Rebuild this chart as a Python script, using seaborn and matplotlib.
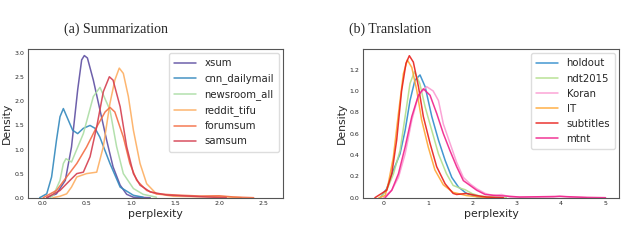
import matplotlib.pyplot as plt
import pandas as pd
import seaborn as sns

sns.set_style("white")

# (a) Summarization -- density curves
xsum_x = [0.05, 0.16, 0.26, 0.33, 0.40, 0.445, 0.475, 0.51, 0.577, 0.652, 0.728, 0.80, 0.88, 0.954, 1.03, 1.22]
xsum_y = [0.0, 0.08, 0.36, 1.05, 2.24, 2.86, 2.95, 2.9, 2.44, 1.82, 1.19, 0.64, 0.26, 0.07, 0.01, 0.0]

cnn_x = [-0.03, 0.05, 0.105, 0.16, 0.20, 0.238, 0.294, 0.343, 0.40, 0.464, 0.54, 0.596, 0.65, 0.765, 0.88, 1.03, 1.14]
cnn_y = [0.0, 0.08, 0.43, 1.19, 1.68, 1.85, 1.61, 1.40, 1.33, 1.44, 1.50, 1.44, 1.26, 0.71, 0.22, 0.05, 0.01]

newsroom_x = [0.09, 0.125, 0.20, 0.238, 0.268, 0.33, 0.464, 0.577, 0.652, 0.765, 0.84, 0.916, 1.03, 1.14, 1.29]
newsroom_y = [0.0, 0.05, 0.36, 0.71, 0.81, 0.74, 1.33, 2.10, 2.29, 1.82, 1.06, 0.50, 0.19, 0.07, 0.01]

reddit_x = [0.12, 0.20, 0.275, 0.33, 0.39, 0.50, 0.615, 0.69, 0.765, 0.82, 0.87, 0.916, 0.973, 1.03, 1.105,
            1.18, 1.29, 1.48, 1.75, 2.05, 2.25]
reddit_y = [0.0, 0.03, 0.08, 0.22, 0.43, 0.50, 0.53, 1.06, 1.96, 2.44, 2.69, 2.58, 2.10, 1.40, 0.71,
            0.29, 0.08, 0.03, 0.02, 0.02, 0.0]

forumsum_x = [0.01, 0.16, 0.275, 0.39, 0.50, 0.615, 0.71, 0.765, 0.82, 0.916, 0.99, 1.067, 1.18, 1.29,
              1.52, 1.78, 2.0, 2.16, 2.39]
forumsum_y = [0.0, 0.15, 0.43, 0.71, 1.05, 1.47, 1.78, 1.875, 1.78, 1.26, 0.71, 0.36, 0.15, 0.08,
              0.055, 0.035, 0.04, 0.015, 0.0]

samsum_x = [0.05, 0.20, 0.313, 0.39, 0.464, 0.54, 0.615, 0.69, 0.758, 0.80, 0.88, 0.954, 1.03, 1.105,
            1.22, 1.41, 1.63, 1.86, 2.08]
samsum_y = [0.0, 0.15, 0.36, 0.50, 0.53, 0.85, 1.47, 2.20, 2.51, 2.44, 1.89, 1.06, 0.50, 0.26,
            0.12, 0.055, 0.035, 0.015, 0.0]

# (b) Translation
holdout_x = [-0.07, 0.075, 0.225, 0.375, 0.49, 0.60, 0.71, 0.825, 0.94, 1.09, 1.24, 1.39, 1.54, 1.69, 1.87, 2.1, 2.32]
holdout_y = [0.0, 0.084, 0.256, 0.41, 0.63, 0.91, 1.10, 1.15, 1.04, 0.76, 0.54, 0.35, 0.19, 0.10, 0.04, 0.01, 0.0]

ndt_x = [-0.07, 0.075, 0.225, 0.375, 0.49, 0.60, 0.70, 0.82, 0.94, 1.09, 1.24, 1.42, 1.57, 1.72, 1.84, 1.99,
         2.17, 2.47, 2.77]
ndt_y = [0.0, 0.07, 0.22, 0.44, 0.76, 1.07, 1.18, 1.07, 0.85, 0.63, 0.41, 0.225, 0.115, 0.09, 0.075, 0.04,
         0.015, 0.006, 0.0]

koran_x = [0.0, 0.19, 0.34, 0.49, 0.64, 0.79, 0.975, 1.12, 1.24, 1.35, 1.5, 1.65, 1.8, 1.95, 2.1, 2.29,
           2.47, 2.66, 2.85, 3.82, 3.97, 4.2, 4.57]
koran_y = [0.0, 0.07, 0.19, 0.41, 0.725, 0.96, 1.04, 1.0, 0.91, 0.69, 0.51, 0.33, 0.19, 0.13, 0.084, 0.04,
           0.02, 0.03, 0.006, 0.006, 0.015, 0.005, 0.0]

it_x = [-0.1, 0.04, 0.11, 0.225, 0.34, 0.45, 0.54, 0.64, 0.75, 0.86, 1.01, 1.16, 1.35, 1.57, 1.87, 2.17, 2.5]
it_y = [0.0, 0.02, 0.13, 0.38, 0.79, 1.16, 1.29, 1.22, 1.01, 0.73, 0.475, 0.26, 0.12, 0.05, 0.02, 0.006, 0.0]

subtitles_x = [-0.19, 0.075, 0.19, 0.30, 0.41, 0.51, 0.585, 0.675, 0.79, 0.90, 1.05, 1.2, 1.39, 1.57, 1.65,
               1.87, 2.1, 2.32, 2.7]
subtitles_y = [0.0, 0.07, 0.225, 0.54, 1.0, 1.26, 1.33, 1.27, 1.04, 0.76, 0.51, 0.29, 0.13, 0.04, 0.03,
               0.04, 0.02, 0.006, 0.0]

mtnt_x = [0.04, 0.19, 0.34, 0.49, 0.64, 0.79, 0.90, 1.05, 1.2, 1.35, 1.5, 1.65, 1.8, 1.95, 2.1, 2.29,
          2.55, 2.77, 3.07, 3.97, 4.57, 5.0]
mtnt_y = [0.0, 0.07, 0.225, 0.475, 0.76, 0.96, 1.02, 0.96, 0.79, 0.60, 0.44, 0.29, 0.16, 0.115, 0.07, 0.03,
          0.02, 0.015, 0.006, 0.012, 0.003, 0.0]

summ_names = ["xsum", "cnn_dailymail", "newsroom_all", "reddit_tifu", "forumsum", "samsum"]
summ_curves = [(xsum_x, xsum_y), (cnn_x, cnn_y), (newsroom_x, newsroom_y),
               (reddit_x, reddit_y), (forumsum_x, forumsum_y), (samsum_x, samsum_y)]
summ_colors = ["#5e4fa2", "#3288bd", "#abdda4", "#fdae61", "#f46d43", "#d53e4f"]

trans_names = ["holdout", "ndt2015", "Koran", "IT", "subtitles", "mtnt"]
trans_curves = [(holdout_x, holdout_y), (ndt_x, ndt_y), (koran_x, koran_y),
                (it_x, it_y), (subtitles_x, subtitles_y), (mtnt_x, mtnt_y)]
trans_colors = ["#2f8ccc", "#b2df8a", "#fb9ad2", "#ffa734", "#e8201c", "#f0218a"]


def to_long(names, curves):
    frames = []
    for name, (xs, ys) in zip(names, curves):
        frames.append(pd.DataFrame({"perplexity": xs, "Density": ys, "dataset": name}))
    return pd.concat(frames, ignore_index=True)


def panel(ax, names, curves, colors, xlim, ylim, xticks, yticks, ytick_fmt):
    df = to_long(names, curves)
    sns.lineplot(data=df, x="perplexity", y="Density", hue="dataset", hue_order=names,
                 palette=colors, sort=False, estimator=None, linewidth=1.1, alpha=0.9, ax=ax)
    ax.set_xlim(*xlim)
    ax.set_ylim(*ylim)
    ax.set_xticks(xticks)
    ax.set_yticks(yticks)
    ax.set_yticklabels([ytick_fmt.format(t) for t in yticks])
    ax.tick_params(labelsize=4.5, pad=2.5, length=0)
    ax.set_xlabel("perplexity", fontsize=7.8, labelpad=2)
    ax.set_ylabel("Density", fontsize=7.8, labelpad=2)
    for s in ax.spines.values():
        s.set_color("#555555")
        s.set_linewidth(0.8)
    ax.legend(loc="upper right", fontsize=7.3, frameon=True, handlelength=2.2,
              borderpad=0.5, labelspacing=0.5, framealpha=1, edgecolor="#dddddd",
              borderaxespad=0.4)


fig = plt.figure(figsize=(6.4, 2.41), dpi=100)
ax1 = fig.add_axes([0.0433, 0.1797, 0.3987, 0.6157])
ax2 = fig.add_axes([0.5667, 0.1797, 0.4010, 0.6157])

panel(ax1, summ_names, summ_curves, summ_colors, (-0.165, 2.72), (0, 3.08),
      [0.0, 0.5, 1.0, 1.5, 2.0, 2.5], [0.0, 0.5, 1.0, 1.5, 2.0, 2.5, 3.0], "{:.1f}")
ax1.set_xticklabels(["0.0", "0.5", "1.0", "1.5", "2.0", "2.5"])
panel(ax2, trans_names, trans_curves, trans_colors, (-0.465, 5.31), (0, 1.39),
      [0, 1, 2, 3, 4, 5], [0.0, 0.2, 0.4, 0.6, 0.8, 1.0, 1.2], "{:.1f}")

fig.text(0.181, 0.88, "(a) Summarization", ha="center", va="center",
         fontsize=10, family="Liberation Serif")
fig.text(0.609, 0.88, "(b) Translation", ha="center", va="center",
         fontsize=10, family="Liberation Serif")

fig.savefig("out.png", dpi=100)
